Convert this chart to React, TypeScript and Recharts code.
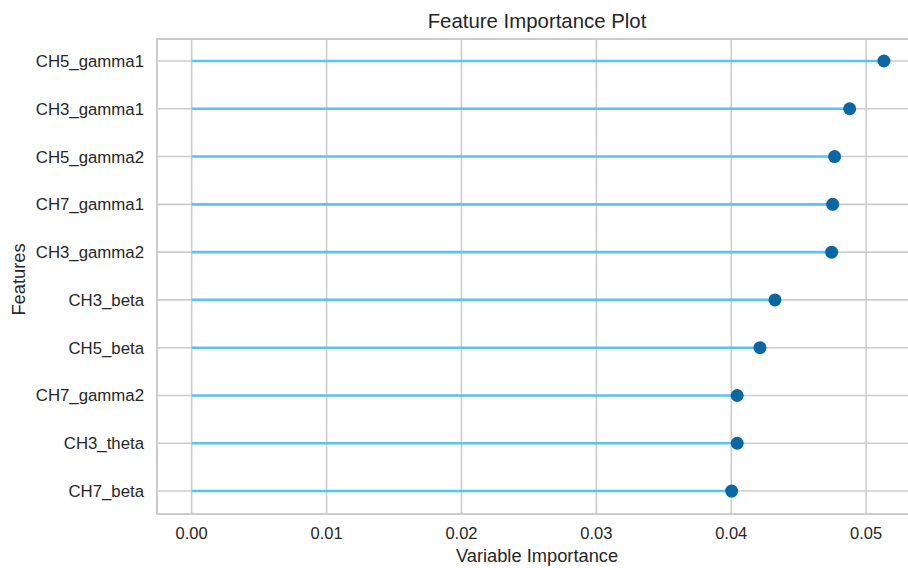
import React from 'react';
import { ScatterChart, Scatter, XAxis, YAxis, CartesianGrid, ReferenceArea, Label } from 'recharts';

const features = [
  'CH5_gamma1',
  'CH3_gamma1',
  'CH5_gamma2',
  'CH7_gamma1',
  'CH3_gamma2',
  'CH3_beta',
  'CH5_beta',
  'CH7_gamma2',
  'CH3_theta',
  'CH7_beta',
];
const importance = [0.05132, 0.04878, 0.04766, 0.04752, 0.04744, 0.04324, 0.04213, 0.04044, 0.04044, 0.04003];
const xTicks = [0, 0.01, 0.02, 0.03, 0.04, 0.05];
const yTicks = features.map((_, i) => i);

const X_DOMAIN: [number, number] = [-0.00257, 0.05377];
const Y_DOMAIN: [number, number] = [-0.46, 9.48];

const GRID = '#cccccc';
const STEM = '#5ac4ec';
const DOT = '#0a67a3';
const TEXT = '#262626';
const FONT = '"Liberation Sans", Arial, sans-serif';

const points = features.map((f, i) => ({ x: importance[i], y: i, name: f }));

const FeaturesLabel = (props: any) => {
  const vb = props.viewBox || { x: 0, y: 0, width: 0, height: 0 };
  const cx = vb.x + 25;
  const cy = vb.y + vb.height / 2 + 3;
  return (
    <text
      x={cx}
      y={cy}
      textAnchor="middle"
      transform={`rotate(-90, ${cx}, ${cy})`}
      fontSize={18.3}
      fontFamily={FONT}
      fill={TEXT}
    >
      Features
    </text>
  );
};

export default function App() {
  return (
    <div
      style={{
        position: 'fixed',
        left: 0,
        top: 0,
        width: 908,
        height: 568,
        overflow: 'hidden',
        background: '#fff',
        fontFamily: FONT,
      }}
    >
      <div
        style={{
          position: 'absolute',
          left: 157,
          width: 760,
          top: 11,
          textAlign: 'center',
          fontSize: 20.4,
          lineHeight: '20px',
          color: TEXT,
          fontFamily: FONT,
        }}
      >
        Feature Importance Plot
      </div>
      <ScatterChart
        width={918}
        height={568}
        margin={{ top: 39, right: 1, bottom: 0, left: 0 }}
        style={{ position: 'absolute', left: 0, top: 0 }}
      >
        <CartesianGrid stroke={GRID} strokeWidth={1.6} horizontal vertical />
        <XAxis
          type="number"
          dataKey="x"
          domain={X_DOMAIN}
          ticks={xTicks}
          allowDataOverflow
          tickFormatter={(v: number) => v.toFixed(2)}
          height={54}
          tickLine={false}
          axisLine={false}
          tickSize={0}
          tickMargin={13}
          tick={{ fontSize: 16.5, fill: TEXT, fontFamily: FONT }}
        >
          <Label
            value="Variable Importance"
            position="insideBottom"
            offset={6}
            style={{ fontSize: 18.3, fill: TEXT, fontFamily: FONT }}
          />
        </XAxis>
        <YAxis
          type="number"
          dataKey="y"
          domain={Y_DOMAIN}
          ticks={yTicks}
          reversed
          allowDataOverflow
          interval={0}
          tickFormatter={(v: number) => features[v] ?? ''}
          width={157}
          tickLine={false}
          axisLine={false}
          tickSize={0}
          tickMargin={13}
          tick={{ fontSize: 16.8, fill: TEXT, fontFamily: FONT }}
        >
          <Label content={FeaturesLabel} />
        </YAxis>
        <ReferenceArea
          x1={X_DOMAIN[0]}
          x2={X_DOMAIN[1]}
          y1={Y_DOMAIN[0]}
          y2={Y_DOMAIN[1]}
          fill="none"
          stroke={GRID}
          strokeWidth={2}
          ifOverflow="visible"
        />
        {points.map((p, i) => (
          <Scatter
            key={p.name}
            data={[
              { x: 0, y: i },
              { x: p.x, y: i },
            ]}
            line={{ stroke: STEM, strokeWidth: 2.6 }}
            shape={() => <g />}
            isAnimationActive={false}
            legendType="none"
          />
        ))}
        <Scatter
          data={points}
          isAnimationActive={false}
          shape={(props: any) => <circle cx={props.cx} cy={props.cy} r={6.5} fill={DOT} />}
        />
      </ScatterChart>
    </div>
  );
}
